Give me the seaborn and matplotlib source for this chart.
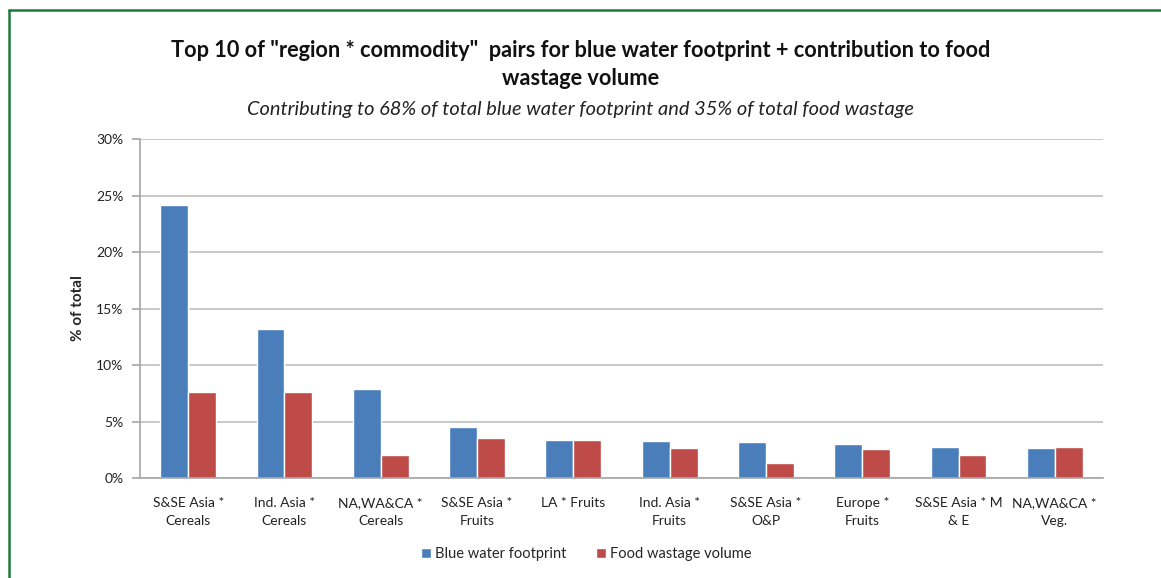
import matplotlib
matplotlib.use("Agg")
import matplotlib.pyplot as plt
import matplotlib.lines as mlines
import matplotlib.ticker as mticker
import seaborn as sns
import numpy as np
import pandas as pd

# data (% of total)
pairs = ["S&SE Asia *\nCereals", "Ind. Asia *\nCereals", "NA,WA&CA *\nCereals",
         "S&SE Asia *\nFruits", "LA * Fruits", "Ind. Asia *\nFruits",
         "S&SE Asia *\nO&P", "Europe *\nFruits", "S&SE Asia * M\n& E",
         "NA,WA&CA *\nVeg."]
blue_water = [24.2, 13.2, 7.9, 4.5, 3.4, 3.3, 3.2, 3.0, 2.75, 2.65]
food_waste = [7.6, 7.6, 2.0, 3.5, 3.35, 2.65, 1.3, 2.6, 2.0, 2.75]
series = ["Blue water footprint", "Food wastage volume"]
colors = ["#4A7EBB", "#BE4B48"]

df = pd.DataFrame({
    "pair": pairs * 2,
    "value": blue_water + food_waste,
    "series": [series[0]] * len(pairs) + [series[1]] * len(pairs),
})

sns.set_style("white")
plt.rcParams["font.family"] = ["Lato", "DejaVu Sans"]

fig = plt.figure(figsize=(11.61, 5.78), dpi=100)
ax = fig.add_axes([0.1206, 0.173, 0.8294, 0.5865])

sns.barplot(data=df, x="pair", y="value", hue="series", palette=colors,
            width=0.58, saturation=1, gap=0, ax=ax)

# axes styling
ax.set_ylim(0, 30)
ax.set_xlim(-0.5, len(pairs) - 0.5)
ax.yaxis.set_major_locator(mticker.MultipleLocator(5))
ax.yaxis.set_major_formatter(mticker.FuncFormatter(lambda v, p: f"{v:.0f}%"))
ax.grid(axis="y", color="#BFBFBF", linewidth=1.2)
ax.set_axisbelow(True)
for side in ["top", "right"]:
    ax.spines[side].set_visible(False)
for side in ["left", "bottom"]:
    ax.spines[side].set_color("#A6A6A6")
    ax.spines[side].set_linewidth(1.2)

# tick marks sit on the category boundaries
ax.set_xticks(np.arange(-0.5, len(pairs), 1.0), minor=True)
ax.tick_params(axis="x", which="major", length=0, pad=14, labelsize=10,
               labelcolor="#222222")
ax.tick_params(axis="x", which="minor", length=6, color="#A6A6A6", width=1.2)
ax.tick_params(axis="y", length=6, color="#A6A6A6", width=1.2, direction="out",
               left=True, labelsize=10, labelcolor="#222222", pad=6)
for lbl in ax.get_xticklabels():
    lbl.set_linespacing(1.55)
ax.set_xlabel("")
ax.set_ylabel("% of total", fontsize=11, fontweight="bold", labelpad=8)

# legend below the plot
leg = ax.legend(loc="lower center", bbox_to_anchor=(0.505, 0.006),
                bbox_transform=fig.transFigure, ncol=2, frameon=False,
                fontsize=10.5, handlelength=0.7, handleheight=0.7,
                handletextpad=0.3, columnspacing=2.0)

# titles
fig.text(0.5, 0.912, 'Top 10 of "region * commodity"  pairs for blue water footprint + contribution to food',
         ha="center", va="center", fontsize=15.7, fontweight="bold", color="#111111")
fig.text(0.5, 0.864, "wastage volume", ha="center", va="center",
         fontsize=15.7, fontweight="bold", color="#111111")
fig.text(0.5, 0.81, "Contributing to 68% of total blue water footprint and 35% of total food wastage",
         ha="center", va="center", fontsize=14.4, style="italic", color="#222222")

# green frame on left and top edges
fig.add_artist(mlines.Line2D([0.0078, 0.0078], [0.0, 0.983], color="#1E7B3C",
                             linewidth=1.8, transform=fig.transFigure))
fig.add_artist(mlines.Line2D([0.0078, 1.0], [0.983, 0.983], color="#1E7B3C",
                             linewidth=1.8, transform=fig.transFigure))

fig.savefig("out.png", dpi=100)
